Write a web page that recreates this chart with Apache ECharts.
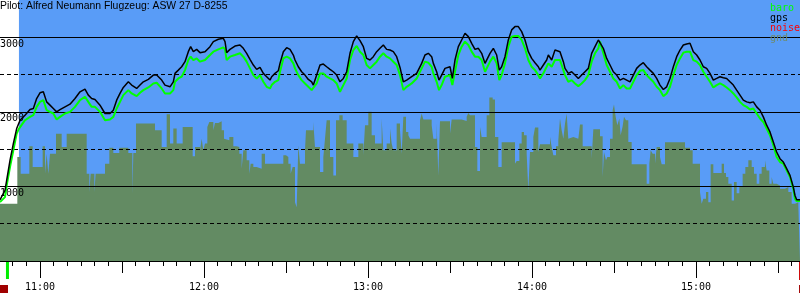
<!DOCTYPE html>
<html><head><meta charset="utf-8">
<script src="https://cdn.jsdelivr.net/npm/echarts@6/dist/echarts.min.js"></script>
<style>html,body{margin:0;padding:0;background:#fff}#c{width:800px;height:300px}</style>
</head><body><div id="c"></div>
<script>
// ---- text ----
const titleText = 'Pilot: Alfred Neumann Flugzeug: ASW 27 D-8255';
const legendNames = ['baro', 'gps', 'noise', 'gnd'];
const hourLabels = ['11:00', '12:00', '13:00', '14:00', '15:00'];
const yLabelValues = [1000, 2000, 3000];

// ---- time axis extent (minutes since midnight) ----
const axisStart = [645.37];
const axisEnd = [938.05];
const skyStart = [652.3];          // sky (blue) begins
const takeoffTime = [648.1];
const landingTime = [937.7];

// ---- track: time (minutes since midnight), gps altitude, baro altitude (m) ----
const trackTime = [
645.37,647.20,647.81,649.03,650.25,651.47,652.32,652.69,654.52,656.35,
657.57,658.78,660.00,661.22,662.44,663.66,664.88,666.10,667.32,669.15,
670.98,672.81,674.64,676.46,677.68,678.90,680.12,681.95,683.78,685.61,
686.83,688.05,689.27,690.49,692.32,693.54,695.37,696.59,697.81,699.64,
701.47,702.69,704.52,705.73,707.56,708.78,709.39,710.61,711.83,713.05,
714.27,715.12,716.10,717.32,
718.54,720.37,722.20,723.42,725.25,727.08,727.69,728.30,729.51,731.34,
733.17,734.39,735.61,736.83,738.05,739.27,740.49,741.71,742.93,744.15,
744.76,745.98,747.20,747.81,749.03,750.25,751.47,752.69,753.30,754.51,
755.73,756.95,758.17,759.39,760.00,761.22,762.44,763.66,764.88,766.10,
767.32,768.54,769.76,770.98,772.20,773.42,774.64,775.86,777.08,778.30,
779.51,780.73,781.95,783.17,784.39,785.61,786.83,788.05,789.27,790.49,
791.71,792.93,794.15,795.98,797.81,799.64,800.85,802.07,803.30,803.91,
805.12,805.98,806.95,808.17,810.00,810.86,811.83,813.05,814.27,815.49,
816.71,817.93,819.15,820.37,821.59,822.81,823.42,824.64,825.86,827.08,
828.05,828.90,830.12,831.34,832.56,833.78,835.00,836.22,837.44,838.66,
839.88,841.10,842.32,842.93,844.15,845.37,845.98,847.20,848.42,849.03,
850.24,851.47,852.08,853.29,854.51,855.73,856.95,858.17,859.39,860.61,
861.83,863.05,864.27,
864.88,866.10,867.32,868.54,869.76,870.98,872.20,873.42,874.64,875.86,
877.08,878.29,879.51,880.73,881.95,883.17,884.39,885.61,886.83,888.05,
889.27,890.49,891.71,892.93,894.15,895.37,896.59,897.81,899.03,900.25,
901.46,902.68,903.90,905.12,906.34,907.56,908.78,910.00,911.22,912.44,
913.66,914.88,916.10,917.32,918.54,919.76,920.98,922.20,923.42,924.63,
925.85,927.07,928.29,929.51,930.73,931.95,933.17,934.39,935.61,936.22,
936.83,938.05
];
const gpsAlt = [
820,946,1081,1350,1574,1776,1852,1888,1955,2031,
2045,2179,2256,2269,2134,2090,2045,2000,2031,2067,
2103,2179,2269,2305,2224,2179,2166,2090,1978,1978,
2022,2157,2247,2327,2403,2359,2314,2359,2403,2435,
2493,2493,2426,2359,2336,2403,2516,2560,2605,2673,
2807,2874,2807,2838,
2794,2807,2874,2942,2973,2986,2942,2794,2838,2883,
2897,2852,2785,2704,2628,2570,2596,2516,2471,2426,
2471,2516,2551,2650,2807,2861,2838,2762,2695,2605,
2538,2493,2435,2403,2359,2493,2628,2641,2605,2570,
2538,2493,2403,2448,2538,2785,2942,3018,2955,2874,
2717,2695,2740,2807,2852,2897,2838,2829,2807,2740,
2596,2403,2426,2471,2516,2650,2762,2785,2740,2650,
2538,2426,2493,2583,2605,2448,2695,2874,2964,3054,
3009,2919,2838,2852,2785,2650,2628,2785,2852,2762,
2560,2605,2740,2964,3099,3143,3143,3076,2964,2807,
2717,2659,2605,2560,2628,2695,2762,2695,2829,2838,
2807,2673,2583,2516,2538,2493,2448,2493,2538,2583,
2785,2874,2964,
2986,2852,2717,2628,2538,2493,2426,2448,2426,2403,
2493,2583,2628,2659,2605,2560,2516,2448,2359,2300,
2336,2448,2605,2740,2829,2897,2910,2919,2807,2762,
2695,2605,2583,2516,2426,2448,2471,2457,2448,2403,
2359,2291,2224,2157,2134,2121,2134,2067,2022,1933,
1821,1731,1596,1462,1372,1327,1238,1148,991,879,
821,821
];
const baroAlt = [
790,857,1013,1260,1484,1708,1776,1798,1888,1933,
1955,2067,2134,2157,2022,2000,1978,1897,1933,1978,
2000,2067,2157,2202,2134,2067,2067,2000,1888,1897,
1933,2045,2134,2224,2291,2247,2211,2256,2291,2327,
2381,2390,2314,2247,2247,2291,2403,2448,2471,2560,
2695,2740,2695,2717,
2673,2695,2762,2807,2838,2865,2838,2695,2740,2762,
2785,2740,2673,2583,2493,2448,2493,2403,2336,2314,
2359,2403,2426,2538,2717,2740,2717,2650,2583,2493,
2426,2381,2336,2291,2269,2381,2516,2516,2471,2448,
2426,2381,2269,2359,2448,2695,2829,2883,2807,2762,
2628,2583,2628,2673,2740,2785,2740,2717,2673,2628,
2493,2291,2336,2381,2448,2583,2673,2659,2605,2516,
2403,2291,2359,2471,2493,2359,2538,2762,2874,2942,
2897,2807,2740,2740,2695,2538,2516,2673,2740,2650,
2426,2493,2650,2874,3009,3018,3018,2964,2852,2695,
2605,2560,2493,2448,2516,2605,2650,2605,2695,2695,
2695,2560,2493,2403,2426,2381,2345,2381,2426,2493,
2673,2785,2852,
2942,2785,2628,2538,2448,2403,2314,2359,2314,2314,
2403,2493,2551,2560,2493,2448,2403,2336,2291,2211,
2247,2336,2493,2628,2717,2794,2807,2807,2695,2673,
2628,2538,2471,2403,2327,2359,2381,2359,2327,2291,
2247,2193,2134,2090,2067,2031,2045,1978,1910,1865,
1776,1686,1552,1395,1327,1305,1215,1126,969,834,
803,803
];

// ---- gnd (step values: time where each step starts, value) ----
const gndTime = [
645.37,651.71,652.93,656.10,657.32,660.98,661.83,662.44,663.05,663.66,
665.86,667.93,669.76,677.08,678.05,678.54,679.88,680.37,683.78,685.37,
686.83,689.03,692.32,693.78,694.15,695.13,702.08,704.52,706.35,707.56,
708.78,710.00,712.20,715.86,716.71,
718.54,719.15,719.76,720.37,721.22,721.95,723.42,724.03,725.25,726.47,
727.32,728.05,729.27,730.74,731.95,732.93,733.78,734.39,735.61,736.59,
737.08,738.05,739.27,741.10,742.32,749.03,750.00,750.86,751.71,752.44,
753.30,753.91,754.51,755.12,756.95,757.32,760.00,760.61,762.44,763.66,
764.27,764.88,766.10,767.32,768.30,769.51,770.73,772.20,774.64,776.47,
778.30,778.91,780.12,781.34,782.56,785.00,785.61,786.83,788.05,788.66,
789.27,790.49,
791.71,792.32,792.93,793.91,794.76,795.37,799.03,799.64,800.25,803.30,
803.91,805.12,805.73,806.34,810.00,810.61,814.27,816.10,816.71,817.32,
819.15,820.00,820.98,821.59,823.42,824.39,825.61,826.46,827.68,828.90,
833.78,834.39,835.37,836.22,837.07,838.05,838.66,839.27,840.49,841.10,
842.32,842.93,846.59,847.20,847.81,848.78,849.63,850.24,850.85,851.47,
852.08,852.68,853.29,853.90,855.12,856.95,857.56,858.54,861.83,862.44,
864.88,865.86,866.34,867.07,867.56,868.54,869.51,870.00,870.61,871.22,
871.95,872.44,873.17,873.66,874.39,875.24,876.46,881.95,882.93,883.42,
884.15,885.00,885.61,886.83,887.44,888.66,895.98,897.81,898.78,901.46,
902.07,902.68,903.66,904.51,905.37,906.34,909.39,910.24,910.98,911.83,
913.05,913.90,914.88,915.85,917.07,918.05,919.15,920.37,921.22,922.20,
923.17,924.02,925.24,925.85,926.83,927.68,928.29,929.51,930.73,932.56,
933.78,935.00,936.22,937.44,938.05
];
const gndAlt = [
767,1395,1170,1538,1260,1538,1170,1439,1170,1439,
1708,1529,1708,1170,924,1170,924,1170,1305,1520,
1448,1520,1448,901,1448,1843,1753,1529,1969,1574,
1776,1574,1798,1404,1529,
1484,1641,1484,1574,1798,1865,1753,1852,1874,1753,
1641,1619,1664,1538,1529,1439,1238,1484,1350,1170,
1305,1260,1238,1439,1305,1417,1395,1305,1170,1260,
789,722,1552,1305,1484,1753,1865,1529,1193,1395,
1641,1888,1395,1148,1888,1955,1888,1574,1395,1574,
1417,1821,2000,1686,1574,1910,1484,1574,1776,1574,
1484,1843,
1753,1439,1933,1731,1686,1641,1888,1978,1897,1821,
1641,1843,1148,1874,1708,1897,1879,1933,1986,1955,
1529,1206,1798,1664,1955,2193,2166,1664,1260,1592,
1305,1341,1574,1731,1686,1439,946,1462,1664,1789,
1462,1565,1664,1529,1417,1538,1619,1910,1753,1641,
1843,1978,1641,1664,1641,1619,1830,1538,1372,1767,
1673,1126,1462,1350,1395,1641,2022,2099,1933,1821,
1910,1686,1807,1933,1888,1596,1296,1036,1305,1484,
1439,1305,1529,1395,1296,1592,1520,1484,1305,924,
767,834,924,789,1296,1179,1305,1179,1126,1036,
812,1058,910,991,1170,1260,1350,1260,1170,1036,
1170,1260,1350,1215,1036,1126,1036,1013,969,991,
924,767,789,744,744
];

// ---- colours ----
const C = {
  sky: '#599cf7', gnd: '#638b63', baro: '#00ff00', gps: '#000000',
  noise: '#ff0000', gndText: '#6e8b6e', grid: '#000000'
};
const legendColors = [C.baro, C.gps, C.noise, C.gndText];
const MONO = 'DejaVu Sans Mono';

const zip = (a, b) => a.map((t, i) => [t, b[i]]);
const toMin = s => { const p = s.split(':'); return +p[0] * 60 + +p[1]; };
const fmt = v => { const h = Math.floor(v / 60), m = Math.round(v - h * 60); return h + ':' + (m < 10 ? '0' : '') + m; };

const hourTicks = hourLabels.map(toMin);
const halfTicks = hourTicks.map(v => v + 30).filter(v => v < axisEnd[0]);
halfTicks.unshift(hourTicks[0] - 30);
const fiveTicks = [];
for (let v = Math.ceil(axisStart[0] / 5) * 5; v <= axisEnd[0]; v += 5) fiveTicks.push(v);

function xAx(ticks, len, labels) {
  return {
    type: 'value', min: axisStart[0], max: axisEnd[0], position: 'bottom', z: 3,
    axisLine: { show: true, onZero: false, lineStyle: { color: '#000', width: 1 } },
    axisTick: { show: true, customValues: ticks, length: len, lineStyle: { color: '#000', width: 1 } },
    axisLabel: labels ? { show: true, customValues: hourTicks, formatter: fmt, margin: 21,
      fontFamily: MONO, fontSize: 10, color: '#000' } : { show: false },
    splitLine: { show: false }
  };
}

const chart = echarts.init(document.getElementById('c'), null, { renderer: 'canvas' });
chart.setOption({
  animation: false,
  backgroundColor: '#ffffff',
  title: { text: titleText, left: 0, top: 1, padding: 0,
    textStyle: { fontFamily: 'Liberation Sans', fontSize: 10.4, fontWeight: 'normal', color: '#000' } },
  legend: {
    orient: 'vertical', left: 761, top: 3, padding: 0, itemGap: 0, itemWidth: 0, itemHeight: 10,
    selectedMode: false, itemStyle: { opacity: 0 }, lineStyle: { opacity: 0 },
    textStyle: { fontFamily: MONO, fontSize: 10, lineHeight: 10 },
    data: legendNames.map((n, i) => ({ name: n, textStyle: { color: legendColors[i] } }))
  },
  grid: { left: 0, right: 0, top: 0, bottom: 39, containLabel: false, outerBoundsMode: 'none' },
  xAxis: [xAx(fiveTicks, 5, false), xAx(halfTicks, 12, false), xAx(hourTicks, 17, true)],
  yAxis: [
    { type: 'value', min: 0, max: 3500, interval: 500, z: 3,
      axisLine: { show: false }, axisTick: { show: false }, axisLabel: { show: false },
      splitLine: { show: true, showMinLine: false, showMaxLine: false,
        lineStyle: { color: C.grid, width: 1, type: [4, 3] } } },
    { type: 'value', min: 0, max: 3500, interval: 1000, position: 'left', z: 3,
      axisLine: { show: false }, axisTick: { show: false },
      axisLabel: { inside: true, margin: 0, align: 'left', verticalAlign: 'top', padding: [2, 0, 0, 0],
        fontFamily: MONO, fontSize: 10, color: '#000',
        formatter: v => yLabelValues.indexOf(v) >= 0 ? String(v) : '' },
      splitLine: { show: true, showMinLine: false, showMaxLine: false,
        lineStyle: { color: C.grid, width: 1, type: 'solid' } } }
  ],
  series: [
    { name: 'sky', type: 'line', z: 1, silent: true, symbol: 'none',
      data: [[skyStart[0], 3500], [axisEnd[0], 3500]],
      lineStyle: { width: 0 }, areaStyle: { color: C.sky, opacity: 1 } },
    { name: 'gnd', type: 'line', z: 2, silent: true, symbol: 'none', step: 'end',
      data: zip(gndTime, gndAlt), color: C.gnd,
      lineStyle: { width: 0 }, areaStyle: { color: C.gnd, opacity: 1 } },
    { name: 'noise', type: 'line', z: 4, symbol: 'none', data: [], color: C.noise },
    { name: 'baro', type: 'line', z: 5, symbol: 'none', data: zip(trackTime, baroAlt), color: C.baro,
      lineStyle: { width: 2, color: C.baro } },
    { name: 'gps', type: 'line', z: 6, symbol: 'none', data: zip(trackTime, gpsAlt), color: C.gps,
      lineStyle: { width: 1.5, color: C.gps } }
  ]
});

// event markers below the time axis, placed through the axis scale
const px = t => chart.convertToPixel({ xAxisIndex: 0 }, t);
const axisY = chart.convertToPixel({ yAxisIndex: 0 }, 0);
const xs = px(axisStart[0]), xt = px(takeoffTime[0]), xl = px(landingTime[0]);
chart.setOption({
  graphic: [
    { type: 'rect', shape: { x: xt - 1.5, y: axisY + 1, width: 3, height: 17 }, style: { fill: '#00ee00' } },
    { type: 'rect', shape: { x: xs, y: axisY + 24, width: 8, height: 8 }, style: { fill: '#a00000' } },
    { type: 'rect', shape: { x: xl, y: axisY, width: 2, height: 19 }, style: { fill: '#cc0000' } },
    { type: 'rect', shape: { x: xl, y: axisY + 24, width: 1, height: 8 }, style: { fill: '#a00000' } }
  ]
});
</script>
</body></html>
